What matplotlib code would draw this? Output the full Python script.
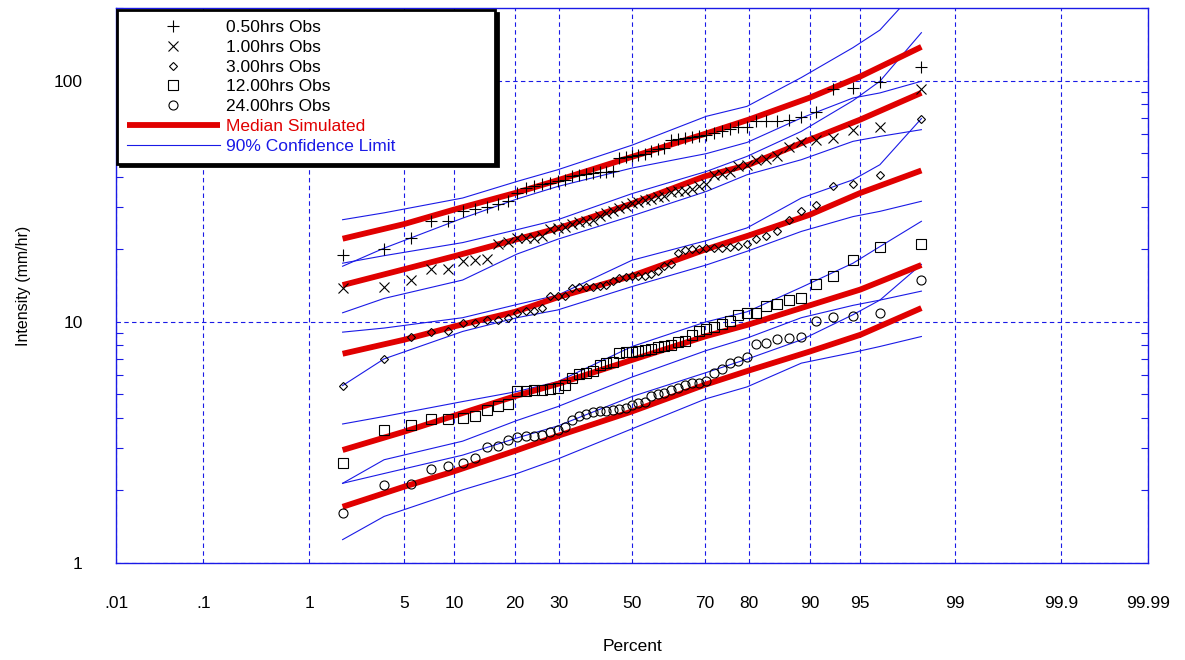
import numpy as np
import matplotlib
matplotlib.use("Agg")
import matplotlib.pyplot as plt
from matplotlib.lines import Line2D
from matplotlib.ticker import FixedLocator, NullLocator, LogLocator, NullFormatter
from statistics import NormalDist

plt.rcParams['font.family'] = ['Liberation Sans', 'DejaVu Sans']

# observed annual maxima, sorted, 53 values per duration (mm/hr)
obs_05 = [19.0, 20.0, 22.3, 26.1, 26.2, 28.9, 29.4, 29.8, 30.8, 31.8,
          34.2, 35.9, 36.4, 37.3, 37.8, 38.2, 38.6, 40.3, 40.8, 41.0,
          41.4, 41.8, 41.8, 42.0, 47.8, 48.2, 48.5, 49.0, 49.6, 50.9,
          52.1, 52.6, 56.9, 57.3, 57.6, 58.2, 58.7, 59.7, 60.7, 61.6,
          63.1, 64.0, 64.3, 67.8, 68.1, 68.3, 68.9, 70.7, 73.9, 92.4,
          93.3, 98.9, 114.0]
obs_1 = [13.8, 13.9, 14.9, 16.5, 16.5, 17.8, 18.0, 18.2, 21.1, 21.5,
         22.2, 22.2, 22.2, 22.6, 24.2, 24.5, 24.7, 25.5, 26.0, 26.3,
         26.5, 27.5, 28.2, 28.7, 29.6, 30.3, 31.1, 31.4, 31.9, 32.3,
         32.9, 33.3, 34.4, 34.7, 35.0, 35.5, 36.4, 37.4, 40.7, 41.1,
         41.6, 44.1, 44.8, 47.0, 47.3, 48.5, 53.3, 55.4, 56.9, 57.6,
         62.2, 64.0, 92.4]
obs_3 = [5.44, 7.02, 8.69, 9.03, 9.18, 9.88, 9.88, 10.2, 10.2, 10.4,
         10.9, 11.1, 11.1, 11.4, 12.8, 12.8, 12.8, 13.8, 14.0, 14.0,
         14.0, 14.1, 14.2, 14.7, 15.2, 15.4, 15.5, 15.5, 15.5, 15.8,
         16.3, 17.1, 17.4, 19.3, 19.9, 20.0, 20.0, 20.2, 20.2, 20.3,
         20.5, 20.7, 21.0, 22.0, 22.7, 23.9, 26.5, 28.9, 30.6, 36.4,
         37.3, 40.7, 69.6]
obs_12 = [2.61, 3.56, 3.74, 3.96, 3.96, 3.99, 4.05, 4.31, 4.48, 4.57,
          5.17, 5.17, 5.22, 5.22, 5.26, 5.31, 5.48, 5.84, 6.08, 6.16,
          6.28, 6.63, 6.74, 6.81, 7.41, 7.46, 7.53, 7.58, 7.65, 7.70,
          7.86, 7.95, 8.03, 8.28, 8.36, 8.83, 9.12, 9.33, 9.56, 9.81,
          10.1, 10.7, 10.9, 10.9, 11.6, 11.9, 12.3, 12.5, 14.4, 15.5,
          18.1, 20.4, 21.0]
obs_24 = [1.61, 2.11, 2.12, 2.45, 2.53, 2.61, 2.72, 3.04, 3.06, 3.24,
          3.32, 3.37, 3.37, 3.39, 3.49, 3.56, 3.68, 3.92, 4.07, 4.15,
          4.22, 4.25, 4.27, 4.31, 4.34, 4.38, 4.53, 4.60, 4.63, 4.93,
          5.03, 5.09, 5.22, 5.31, 5.48, 5.57, 5.60, 5.70, 6.13, 6.37,
          6.74, 6.91, 7.14, 8.08, 8.20, 8.47, 8.55, 8.64, 10.1, 10.5,
          10.6, 10.9, 14.9]

n_obs = len(obs_05)
pct_obs = [100.0 * i / (n_obs + 1) for i in range(1, n_obs + 1)]

# simulated medians
pct_med = [1.85, 5, 10, 20, 30, 50, 70, 80, 90, 95, 98.15]
med_05 = [22.1, 25.4, 29.2, 34.2, 38.8, 48.3, 60.1, 68.9, 85.0, 104, 138]
med_1 = [14.2, 16.5, 18.7, 21.9, 24.5, 30.9, 40.1, 44.8, 56.9, 68.9, 89.0]
med_3 = [7.37, 8.42, 9.57, 11.0, 12.7, 15.5, 19.9, 22.8, 27.8, 34.2, 42.4]
med_12 = [2.94, 3.50, 4.08, 4.92, 5.55, 6.95, 8.69, 9.75, 11.7, 13.6, 17.2]
med_24 = [1.71, 2.07, 2.40, 2.92, 3.38, 4.25, 5.48, 6.28, 7.53, 8.83, 11.4]

# 90% confidence limits
pct_ci = [1.85, 3.70, 11.11, 20.37, 29.63, 50, 70.37, 79.63, 88.89, 94.44, 96.30, 98.15]
hi_05 = [26.5, 28.3, 32.6, 38.2, 42.7, 54.0, 71.1, 78.2, 103, 137, 162, 250]
lo_05 = [17.0, 20.2, 26.9, 32.3, 36.4, 43.4, 49.8, 55.4, 70.0, 84.7, 88.9, 99.4]
hi_1 = [17.5, 18.8, 21.3, 24.1, 26.5, 34.0, 42.0, 48.5, 61.6, 82.6, 99.4, 158]
lo_1 = [10.9, 12.5, 14.9, 19.1, 22.0, 27.5, 34.7, 40.7, 47.0, 56.0, 58.7, 62.6]
hi_3 = [9.06, 9.42, 10.4, 11.8, 12.9, 18.0, 21.7, 24.5, 32.6, 38.8, 44.8, 69.6]
lo_3 = [5.44, 7.02, 9.12, 10.4, 11.2, 14.0, 17.2, 19.6, 23.7, 27.3, 28.7, 31.6]
hi_12 = [3.77, 4.05, 4.67, 5.14, 5.65, 7.90, 10.0, 11.0, 13.9, 17.5, 20.5, 26.1]
lo_12 = [2.14, 2.68, 3.20, 3.90, 4.45, 5.90, 7.60, 8.56, 10.4, 11.7, 12.3, 13.4]
hi_24 = [2.14, 2.35, 2.80, 3.30, 3.70, 4.90, 6.16, 7.00, 8.42, 10.7, 12.3, 17.3]
lo_24 = [1.25, 1.56, 2.01, 2.35, 2.70, 3.60, 4.80, 5.37, 6.74, 7.46, 7.90, 8.69]

x_ticks = [0.01, 0.1, 1, 5, 10, 20, 30, 50, 70, 80, 90, 95, 99, 99.9, 99.99]
x_labels = ['.01', '.1', '1', '5', '10', '20', '30', '50', '70', '80', '90', '95', '99', '99.9', '99.99']

_nd = NormalDist()


def prob_fwd(p):
    p = np.clip(np.asarray(p, dtype=float), 1e-6, 100 - 1e-6)
    return np.vectorize(lambda v: _nd.inv_cdf(v / 100.0), otypes=[float])(p)


def prob_inv(z):
    z = np.asarray(z, dtype=float)
    return np.vectorize(lambda v: 100.0 * _nd.cdf(v), otypes=[float])(z)


RED = '#e00000'
BLUE = '#1a1ae6'

fig = plt.figure(figsize=(11.85, 6.6), dpi=100)
ax = fig.add_axes([116 / 1185, 1 - 563 / 660, (1148 - 116) / 1185, (563 - 8) / 660])
ax.set_xscale('function', functions=(prob_fwd, prob_inv))
ax.set_yscale('log')

for lo, hi in [(lo_05, hi_05), (lo_1, hi_1), (lo_3, hi_3), (lo_12, hi_12), (lo_24, hi_24)]:
    ax.plot(pct_ci, hi, color=BLUE, lw=0.8, zorder=2)
    ax.plot(pct_ci, lo, color=BLUE, lw=0.8, zorder=2)
for med in [med_05, med_1, med_3, med_12, med_24]:
    ax.plot(pct_med, med, color=RED, lw=4.2, solid_capstyle='butt', zorder=3)

mk = dict(ls='none', color='k', mfc='none', mew=0.8, zorder=4)
ax.plot(pct_obs, obs_05, marker='+', ms=8, **mk)
ax.plot(pct_obs, obs_1, marker='x', ms=6.5, **mk)
ax.plot(pct_obs, obs_3, marker='D', ms=4, **mk)
ax.plot(pct_obs, obs_12, marker='s', ms=6.5, **mk)
ax.plot(pct_obs, obs_24, marker='o', ms=6.5, **mk)

ax.set_xlim(0.01, 99.99)
ax.set_ylim(1, 200)

ax.xaxis.set_major_locator(FixedLocator(x_ticks))
ax.xaxis.set_minor_locator(NullLocator())
ax.set_xticklabels(x_labels)
ax.tick_params(axis='x', which='major', length=0, pad=24, labelsize=12.5)

ax.yaxis.set_major_locator(FixedLocator([1, 10, 100]))
ax.set_yticklabels(['1', '10', '100'])
ax.yaxis.set_minor_locator(LogLocator(base=10, subs=np.arange(2, 10)))
ax.yaxis.set_minor_formatter(NullFormatter())
ax.tick_params(axis='y', which='major', length=0, pad=24, labelsize=12.5)
ax.tick_params(axis='y', which='minor', direction='in', length=5, width=0.8,
               color=BLUE, left=True, right=True)

ax.grid(True, which='major', color=BLUE, ls=(0, (4, 3)), lw=0.8)
for s in ax.spines.values():
    s.set_color(BLUE)
    s.set_linewidth(1.0)

ax.set_xlabel('Percent', fontsize=12.5, labelpad=20)
ax.set_ylabel('Intensity (mm/hr)', fontsize=11.5)
ax.yaxis.set_label_coords(-0.082, 0.5)

handles = [
    Line2D([], [], ls='none', marker='+', ms=8, color='k', mew=0.8),
    Line2D([], [], ls='none', marker='x', ms=6.5, color='k', mew=0.8),
    Line2D([], [], ls='none', marker='D', ms=4, color='k', mfc='none', mew=0.8),
    Line2D([], [], ls='none', marker='s', ms=6.5, color='k', mfc='none', mew=0.8),
    Line2D([], [], ls='none', marker='o', ms=6.5, color='k', mfc='none', mew=0.8),
    Line2D([], [], color=RED, lw=4.2, solid_capstyle='butt'),
    Line2D([], [], color=BLUE, lw=0.8),
]
labels = ['0.50hrs Obs', '1.00hrs Obs', '3.00hrs Obs', '12.00hrs Obs', '24.00hrs Obs',
          'Median Simulated', '90% Confidence Limit']
leg = ax.legend(handles, labels, loc='upper left', bbox_to_anchor=(0.001, 0.0, 0.366, 0.996),
                mode='expand', borderaxespad=0.0, fontsize=12.5, handlelength=5.4,
                handletextpad=0.35, labelspacing=0.27, borderpad=0.55, fancybox=False,
                edgecolor='k', framealpha=1, shadow={'color': 'k', 'alpha': 1})
leg.get_frame().set_linewidth(2.0)
leg.set_zorder(10)
for txt, c in zip(leg.get_texts(), ['k'] * 5 + [RED, BLUE]):
    txt.set_color(c)

fig.savefig('out.png', dpi=100)
